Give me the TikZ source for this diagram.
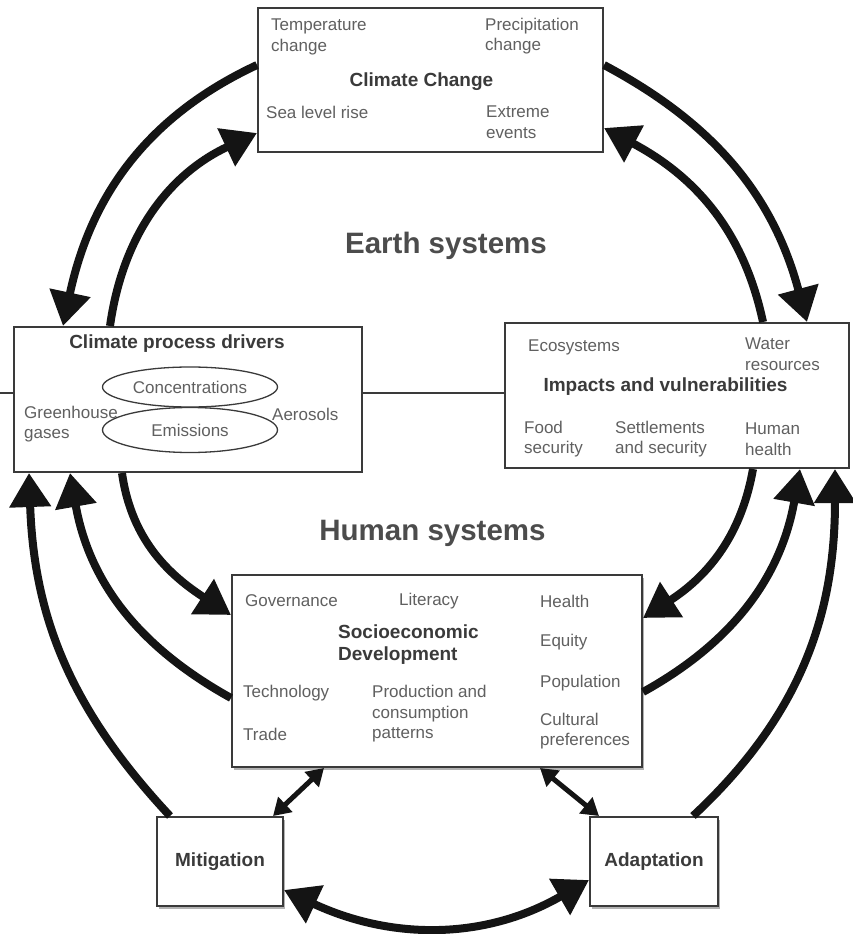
\documentclass[tikz,border=0pt]{standalone}
\usepackage{fontspec}
\setmainfont{Liberation Sans}
\usetikzlibrary{arrows.meta,shapes.geometric,shadows}

\definecolor{boxline}{HTML}{3A3A3A}
\definecolor{labelgray}{HTML}{606060}
\definecolor{titlegray}{HTML}{3A3A3A}
\definecolor{headgray}{HTML}{4C4C4C}
\definecolor{arrowblack}{HTML}{141414}

\tikzset{
  panel/.style={draw=boxline, line width=2pt, fill=white, inner sep=0pt},
  shadowed/.style={drop shadow={shadow xshift=2pt, shadow yshift=-3pt, fill=black, opacity=0.3}},
  lbl/.style={text=labelgray, font=\fontsize{17}{20.5}\selectfont, align=left, inner sep=0pt, anchor=west},
  ttl/.style={text=titlegray, font=\bfseries\fontsize{19}{22}\selectfont, align=left, inner sep=0pt},
  bigttl/.style={text=headgray, font=\bfseries\fontsize{29.5}{34}\selectfont, inner sep=0pt},
  oval/.style={ellipse, draw=boxline, line width=1.3pt, inner sep=0pt, text=labelgray,
               font=\fontsize{17}{20.5}\selectfont},
  flow/.style={draw=arrowblack, line width=8pt, -{Triangle[length=34pt,width=40pt]}},
  twoway/.style={draw=arrowblack, line width=8pt,
                 {Triangle[length=34pt,width=40pt]}-{Triangle[length=34pt,width=40pt]}},
  link/.style={draw=arrowblack, line width=5pt,
               {Triangle[length=17pt,width=20pt]}-{Triangle[length=17pt,width=20pt]}},
  rule/.style={draw=boxline, line width=2pt}
}

\begin{document}
\begin{tikzpicture}[x=1pt, y=-1pt]
\useasboundingbox (0,0) rectangle (852,934);

% ---- boxes ----
\node[panel, minimum width=345, minimum height=144] (cc) at (430.5,80) {};
\node[panel, minimum width=348, minimum height=145] (cpd) at (188,399.5) {};
\node[panel, minimum width=344, minimum height=145] (iv) at (677,395.5) {};
\node[panel, shadowed, minimum width=410, minimum height=192] (sd) at (437,671) {};
\node[panel, shadowed, minimum width=126, minimum height=89] (mit) at (220,861.5) {};
\node[panel, shadowed, minimum width=128, minimum height=89] (ada) at (654,861.5) {};

% ---- horizontal rule across the middle ----
\coordinate (edgeL) at (0,393);
\draw[rule] (edgeL) -- (cpd.west |- edgeL);
\draw[rule] (cpd.east |- edgeL) -- (iv.west |- edgeL);

% ---- Climate Change ----
\node[lbl] (tc) at (271,37) {Temperature\\change};
\node[lbl] (pc) at (485,36) {Precipitation\\change};
\node[ttl] (cct) at (421.5,82) {Climate Change};
\node[lbl] (slr) at (266,112) {Sea level rise};
\node[lbl] (ee) at (486,122) {Extreme\\events};

% ---- Climate process drivers ----
\node[ttl] (cpdt) at (177,344) {Climate process drivers};
\node[oval, minimum width=175, minimum height=40] (conc) at (190,387) {Concentrations};
\node[oval, minimum width=175, minimum height=45] (emis) at (190,430) {Emissions};
\node[lbl] (ghg) at (24,424) {Greenhouse\\gases};
\node[lbl] (aer) at (272,414) {Aerosols};

% ---- Impacts and vulnerabilities ----
\node[lbl] (eco) at (528,347) {Ecosystems};
\node[lbl] (wat) at (745,354) {Water\\resources};
\node[ttl] (ivt) at (665.5,387) {Impacts and vulnerabilities};
\node[lbl] (food) at (524,439) {Food\\security};
\node[lbl] (sett) at (615,439) {Settlements\\and security};
\node[lbl] (hh) at (745,439) {Human\\health};

% ---- Socioeconomic Development ----
\node[lbl] (gov) at (245,601) {Governance};
\node[lbl] (lit) at (399,601) {Literacy};
\node[lbl] (hea) at (540,601) {Health};
\node[ttl, anchor=west] (sdt) at (338,645) {Socioeconomic\\Development};
\node[lbl] (equ) at (540,642) {Equity};
\node[lbl] (pop) at (540,683) {Population};
\node[lbl] (tech) at (243,693) {Technology};
\node[lbl] (prod) at (372,714) {Production and\\consumption\\patterns};
\node[lbl] (trade) at (243,734) {Trade};
\node[lbl] (cult) at (540,731) {Cultural\\preferences};

% ---- Mitigation / Adaptation ----
\node[ttl] (mitt) at (mit.center) {Mitigation};
\node[ttl] (adat) at (ada.center) {Adaptation};

% ---- section headings ----
\node[bigttl] (earth) at (446,246) {Earth systems};
\node[bigttl] (human) at (432.5,533) {Human systems};

% ---- upper loop ----
\draw[flow] (cc.west |- 0,65) to[out=205, in=78] (63,0 |- cpd.north);
\draw[flow] (110,0 |- cpd.north) to[out=82, in=205] (cc.west |- 0,133);
\draw[flow] (cc.east |- 0,65) to[out=-28, in=105] (807,0 |- iv.north);
\draw[flow] (763,0 |- iv.north) to[out=102, in=-28] (cc.east |- 0,128);

% ---- lower loop ----
\draw[flow] (122,0 |- cpd.south) to[out=-82, in=147] (sd.west |- 0,615);
\draw[flow] (sd.west |- 0,698) to[out=151, in=-80] (70,0 |- cpd.south);
\draw[flow] (170,0 |- mit.north) to[out=133, in=-88] (29,0 |- cpd.south);
\draw[flow] (753,0 |- iv.south) to[out=-100, in=33] (sd.east |- 0,618);
\draw[flow] (sd.east |- 0,692) to[out=29, in=-100] (800,0 |- iv.south);
\draw[flow] (693,0 |- ada.north) to[out=43, in=-90] (835,0 |- iv.south);

% ---- responses ----
\draw[twoway] (mit.east |- 0,890) to[out=-25, in=210] (ada.west |- 0,880);
\draw[link] (273,0 |- mit.north) -- (324,0 |- sd.south);
\draw[link] (540,0 |- sd.south) -- (599,0 |- ada.north);
\end{tikzpicture}
\end{document}
